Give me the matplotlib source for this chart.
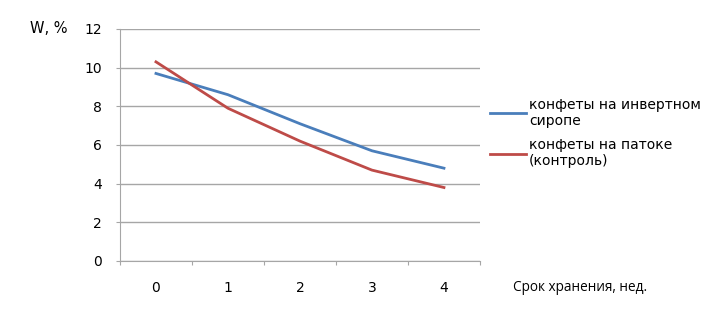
import numpy as np
import matplotlib.pyplot as plt

weeks = [0, 1, 2, 3, 4]
invert_syrup = [9.7, 8.6, 7.1, 5.7, 4.8]
molasses = [10.3, 7.9, 6.2, 4.7, 3.8]
series_names = ["конфеты на инвертном\nсиропе", "конфеты на патоке\n(контроль)"]

plt.rcParams['font.family'] = ['DejaVu Sans']

fig = plt.figure(figsize=(7.21, 3.12), dpi=100)
ax = fig.add_axes([0.1664, 0.1635, 0.4993, 0.7436])

x = np.arange(len(weeks))
l1, = ax.plot(x, invert_syrup, color='#4A7EBB', lw=2)
l2, = ax.plot(x, molasses, color='#BE4B48', lw=2)

ax.set_xlim(-0.5, len(weeks) - 0.5)
ax.set_ylim(0, 12)
ax.set_yticks(range(0, 13, 2))
ax.yaxis.grid(True, color='#A6A6A6', lw=1)
ax.set_axisbelow(True)

# category boundaries get tick marks, labels sit in the middle
ax.set_xticks(np.arange(-0.5, len(weeks), 1.0))
ax.set_xticklabels([])
ax.set_xticks(x, minor=True)
ax.set_xticklabels([str(w) for w in weeks], minor=True)
ax.tick_params(axis='x', which='minor', length=0, pad=14.5, labelsize=10, colors='#000000')
ax.tick_params(axis='x', which='major', length=3, color='#A6A6A6')
ax.tick_params(axis='y', length=3, color='#A6A6A6', labelsize=10, pad=10)

for s in ['top', 'right']:
    ax.spines[s].set_visible(False)
ax.spines['left'].set_color('#A6A6A6')
ax.spines['bottom'].set_color('#A6A6A6')

fig.text(0.041, 0.91, "W, %", fontsize=10.5, va='center', ha='left')
fig.text(0.711, 0.08, "Срок хранения, нед.", fontsize=9.8, va='center', ha='left',
         family=['Open Sans', 'DejaVu Sans'])

fig.legend([l1, l2], series_names, loc='upper left', bbox_to_anchor=(0.672, 0.705),
           frameon=False, fontsize=10, handlelength=2.6, handletextpad=0.2,
           labelspacing=0.75, borderaxespad=0)

plt.savefig("out.png", dpi=100)
